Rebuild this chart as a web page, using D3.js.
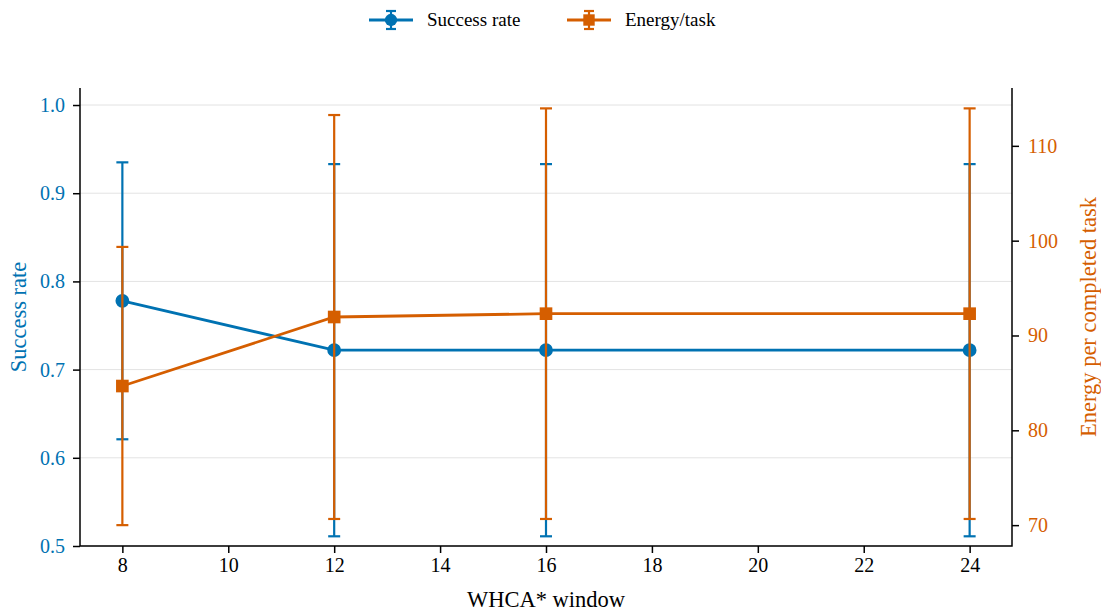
<!DOCTYPE html>
<html>
<head>
<meta charset="utf-8">
<script src="https://cdn.jsdelivr.net/npm/d3@7"></script>
<style>
  html, body { margin: 0; padding: 0; background: #fff; }
  svg { display: block; font-family: "Liberation Serif", "DejaVu Serif", serif; }
  svg text { font-family: "Liberation Serif", "DejaVu Serif", serif; }
</style>
</head>
<body>
<div id="chart"></div>
<script>
// WHCA* window sweep: success rate (left axis) vs energy per completed task (right axis)

const windows = [8, 12, 16, 24];
const successMean = [0.778, 0.722, 0.722, 0.722];
const successErr = [0.157, 0.211, 0.211, 0.211];
const energyMean = [84.67, 91.95, 92.3, 92.3];
const energyErr = [14.67, 21.3, 21.65, 21.65];
const xTicks = [8, 10, 12, 14, 16, 18, 20, 22, 24];
const leftTicks = [0.5, 0.6, 0.7, 0.8, 0.9, 1.0];
const rightTicks = [70, 80, 90, 100, 110];

const BLUE = '#0072B2';
const ORANGE = '#D55E00';
const SERIF = '"Liberation Serif", "DejaVu Serif", serif';

const width = 1101, height = 613;
const m = { top: 88, right: 89, bottom: 67, left: 80 };
const iw = width - m.left - m.right, ih = height - m.top - m.bottom;

const svg = d3.select('#chart').append('svg').attr('width', width).attr('height', height);
const g = svg.append('g').attr('transform', `translate(${m.left},${m.top})`);

const x = d3.scaleLinear().domain([7.2, 24.8]).range([0, iw]);
const yL = d3.scaleLinear().domain([0.5, 1.0193]).range([ih, 0]);
const yR = d3.scaleLinear().domain([67.8, 116.1]).range([ih, 0]);

// horizontal grid at left ticks
g.append('g').selectAll('line').data(leftTicks).join('line')
    .attr('x1', 0).attr('x2', iw)
    .attr('y1', (d) => yL(d)).attr('y2', (d) => yL(d))
    .attr('stroke', '#e3e3e3').attr('stroke-width', 1);

// axes: d3 puts sans-serif on the group, so override it there and on the labels
const styleAxis = (sel, color) => {
    sel.attr('font-family', SERIF).attr('font-size', 20);
    sel.select('.domain').remove();
    sel.selectAll('.tick line').attr('stroke', '#000').attr('stroke-width', 1.5);
    sel.selectAll('.tick text').attr('fill', color)
        .style('font-family', SERIF).style('font-size', '20px');
};

g.append('g').attr('transform', `translate(0,${ih})`)
    .call(d3.axisBottom(x).tickValues(xTicks).tickSize(7).tickPadding(5).tickFormat(d3.format('d')))
    .call((s) => styleAxis(s, '#000'));
g.append('g')
    .call(d3.axisLeft(yL).tickValues(leftTicks).tickSize(7).tickPadding(8).tickFormat(d3.format('.1f')))
    .call((s) => styleAxis(s, BLUE));
g.append('g').attr('transform', `translate(${iw},0)`)
    .call(d3.axisRight(yR).tickValues(rightTicks).tickSize(7).tickPadding(9).tickFormat(d3.format('d')))
    .call((s) => styleAxis(s, ORANGE));

// spines: left, right, bottom
g.append('path')
    .attr('d', `M0,0V${ih}H${iw}V0`)
    .attr('fill', 'none').attr('stroke', '#000').attr('stroke-width', 1.5);

// one series with error bars and markers
const drawSeries = (means, errs, y, color, shape) => {
    const s = g.append('g');
    const cap = 6;
    windows.forEach((w, i) => {
        const cx = x(w);
        const lo = y(means[i] - errs[i]), hi = y(means[i] + errs[i]);
        s.append('line').attr('x1', cx).attr('x2', cx).attr('y1', lo).attr('y2', hi)
            .attr('stroke', color).attr('stroke-width', 2.2);
        [lo, hi].forEach((yy) => s.append('line')
            .attr('x1', cx - cap).attr('x2', cx + cap).attr('y1', yy).attr('y2', yy)
            .attr('stroke', color).attr('stroke-width', 2.2));
    });
    s.append('path').datum(means)
        .attr('fill', 'none').attr('stroke', color).attr('stroke-width', 2.8)
        .attr('d', d3.line().x((_, i) => x(windows[i])).y((v) => y(v)));
    const sym = d3.symbol().type(shape).size(shape === d3.symbolSquare ? 160 : 150);
    s.selectAll('path.mk').data(means).join('path').attr('class', 'mk')
        .attr('transform', (v, i) => `translate(${x(windows[i])},${y(v)})`)
        .attr('d', sym).attr('fill', color);
};

drawSeries(successMean, successErr, yL, BLUE, d3.symbolCircle);
drawSeries(energyMean, energyErr, yR, ORANGE, d3.symbolSquare);

// axis titles
svg.append('text')
    .attr('x', m.left + iw / 2).attr('y', 607)
    .attr('text-anchor', 'middle').attr('font-size', 22.5).attr('fill', '#000')
    .text('WHCA* window');
svg.append('text')
    .attr('transform', `translate(26,${m.top + ih / 2}) rotate(-90)`)
    .attr('text-anchor', 'middle').attr('font-size', 22.5).attr('fill', BLUE)
    .text('Success rate');
svg.append('text')
    .attr('transform', `translate(1096,${m.top + ih / 2}) rotate(-90)`)
    .attr('text-anchor', 'middle').attr('font-size', 22.5).attr('fill', ORANGE)
    .text('Energy per completed task');

// legend
const legendItems = [
    { label: 'Success rate', color: BLUE, shape: d3.symbolCircle, x: 369 },
    { label: 'Energy/task', color: ORANGE, shape: d3.symbolSquare, x: 567 },
];
const lg = svg.append('g');
legendItems.forEach((it) => {
    const ly = 20;
    const item = lg.append('g').attr('transform', `translate(${it.x},${ly})`);
    item.append('line').attr('x1', 0).attr('x2', 44).attr('y1', 0).attr('y2', 0)
        .attr('stroke', it.color).attr('stroke-width', 2.8);
    item.append('line').attr('x1', 22).attr('x2', 22).attr('y1', -9).attr('y2', 9)
        .attr('stroke', it.color).attr('stroke-width', 2.2);
    [-9, 9].forEach((yy) => item.append('line').attr('x1', 17).attr('x2', 27).attr('y1', yy).attr('y2', yy)
        .attr('stroke', it.color).attr('stroke-width', 2.2));
    item.append('path').attr('transform', 'translate(22,0)')
        .attr('d', d3.symbol().type(it.shape).size(it.shape === d3.symbolSquare ? 130 : 120)())
        .attr('fill', it.color);
    item.append('text').attr('x', 58).attr('y', 6).attr('font-size', 19).attr('fill', '#000')
        .text(it.label);
});
</script>
</body>
</html>
